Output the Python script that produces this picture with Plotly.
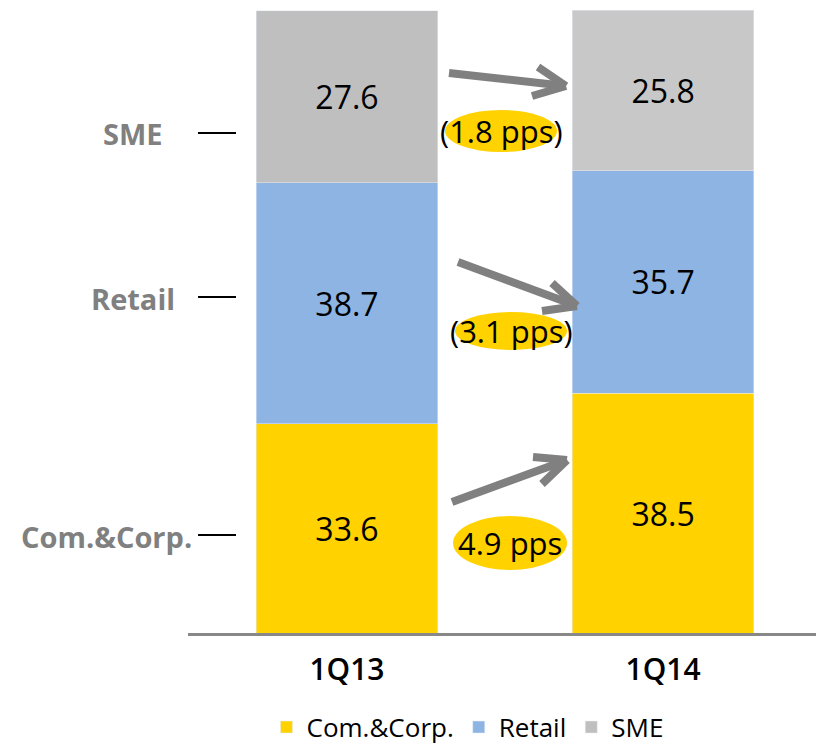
import plotly.graph_objects as go

# Loan mix by segment (% of portfolio)
quarters = ["1Q13", "1Q14"]
com_corp = [33.6, 38.5]
retail = [38.7, 35.7]
sme = [27.6, 25.8]

segment_labels = ["SME", "Retail", "Com.&Corp."]
change_labels = ["(1.8 pps)", "(3.1 pps)", "4.9 pps"]

YELLOW = "#FFD200"
BLUE = "#8DB4E2"
GREYS = ["#BFBFBF", "#C8C8C8"]
FONT = "Open Sans"

# Figure geometry (pixels)
W, H = 816, 745
ML, MR, MT, MB = 188, 0, 10, 112
PW, PH = W - ML - MR, H - MT - MB


def px(x):
    return (x - ML) / PW


def py(y):
    return (H - MB - y) / PH


fig = go.Figure()
text_font = dict(family=FONT, size=32, color="black")
fig.add_trace(go.Bar(x=quarters, y=com_corp, name="Com.&Corp.", marker_color=YELLOW,
                     text=[f"{v:.1f}" for v in com_corp], textposition="inside",
                     insidetextanchor="middle", textfont=text_font))
fig.add_trace(go.Bar(x=quarters, y=retail, name="Retail", marker_color=BLUE,
                     text=[f"{v:.1f}" for v in retail], textposition="inside",
                     insidetextanchor="middle", textfont=text_font))
fig.add_trace(go.Bar(x=quarters, y=sme, name="SME", marker_color=GREYS,
                     text=[f"{v:.1f}" for v in sme], textposition="inside",
                     insidetextanchor="middle", textfont=text_font))

shapes = []
annotations = []

# Segment labels with leader dashes on the left
seg_label_pos = [(165, 134), (177, 298), (194, 536)]
for lab, (xr, yc) in zip(segment_labels, seg_label_pos):
    annotations.append(dict(text=f"<b>{lab}</b>", x=px(xr), y=py(yc), xref="paper", yref="paper",
                            xanchor="right", yanchor="middle", showarrow=False,
                            font=dict(family=FONT, size=29, color="#808080")))
    shapes.append(dict(type="line", xref="paper", yref="paper",
                       x0=px(198), x1=px(236), y0=py(yc - 1), y1=py(yc - 1),
                       line=dict(color="black", width=2)))

# Arrows between the bars: shaft plus open chevron head
arrows = [
    ((449, 73), (566, 86), (538, 67), (532, 96)),
    ((458, 262), (577, 306), (552, 283), (542, 311)),
    ((452, 502), (567, 460), (533, 457), (542, 484)),
]
for tail, tip, a1, a2 in arrows:
    for start in (tail, a1, a2):
        shapes.append(dict(type="line", xref="paper", yref="paper",
                           x0=px(start[0]), y0=py(start[1]), x1=px(tip[0]), y1=py(tip[1]),
                           line=dict(color="#808080", width=8)))

# Yellow ellipses with change labels
ellipses = [(501, 131, 56, 21), (511, 331, 56, 19), (510, 543, 57, 27)]
for lab, (cx, cy, rx, ry) in zip(change_labels, ellipses):
    shapes.append(dict(type="circle", xref="paper", yref="paper",
                       x0=px(cx - rx), x1=px(cx + rx), y0=py(cy - ry), y1=py(cy + ry),
                       fillcolor=YELLOW, line=dict(width=0), layer="above"))
    annotations.append(dict(text=lab, x=px(cx), y=py(cy), xref="paper", yref="paper",
                            xanchor="center", yanchor="middle", showarrow=False,
                            font=dict(family=FONT, size=31, color="black")))

fig.update_layout(
    width=W, height=H,
    margin=dict(l=ML, r=MR, t=MT, b=MB, autoexpand=False),
    barmode="stack", bargap=0.427,
    plot_bgcolor="white", paper_bgcolor="white",
    font=dict(family=FONT, color="black"),
    shapes=shapes, annotations=annotations,
    legend=dict(orientation="h", x=0.125, xanchor="left", yref="container", y=0.024,
                yanchor="middle", font=dict(family=FONT, size=26, color="black"),
                itemclick=False, traceorder="normal"),
    xaxis=dict(showline=True, linecolor="#888888", linewidth=3, ticks="",
               range=[-0.503, 1.484],
               tickfont=dict(family=FONT, size=30, color="black", weight=600),
               ticklabelstandoff=8, showgrid=False),
    yaxis=dict(range=[0, 100], visible=False, showgrid=False),
)

fig.write_html("out.html")
